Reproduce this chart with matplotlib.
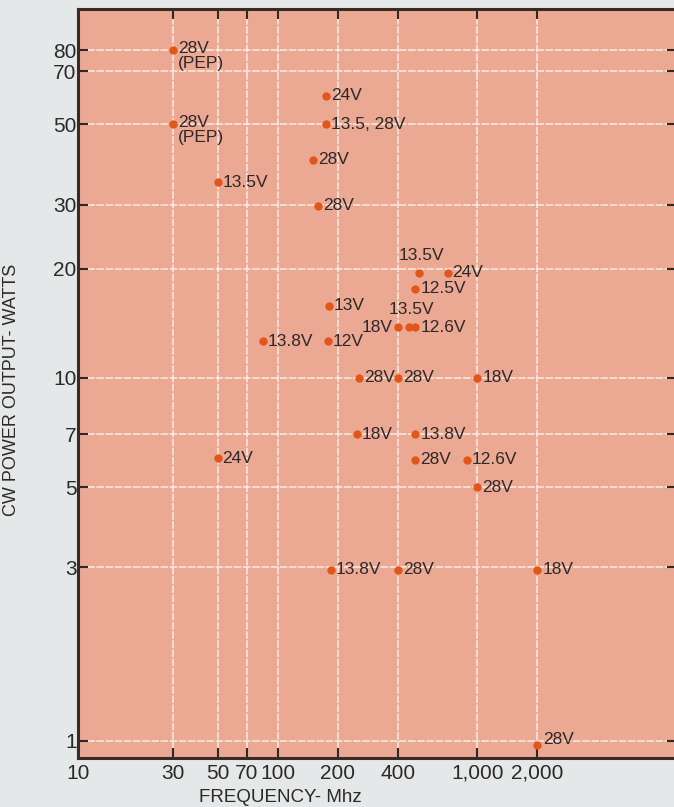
import matplotlib
matplotlib.use("Agg")
import matplotlib.pyplot as plt
from matplotlib.ticker import FixedLocator, NullLocator

# ---- data ----
freq = [30, 30, 50, 175, 175, 150, 160, 510, 710, 490, 180, 400, 455, 490,
        84, 178, 255, 400, 1000, 250, 490, 490, 890, 1000, 50, 185, 400, 2000, 2000]
power = [80, 50, 34.6, 60, 50, 40, 29.8, 19.5, 19.5, 17.6, 15.8, 13.8, 13.8, 13.8,
         12.6, 12.6, 10, 10, 10, 7, 7, 5.95, 5.95, 5, 6, 2.96, 2.96, 2.96, 0.97]
labels = ["28V\n(PEP)", "28V\n(PEP)", "13.5V", "24V", "13.5, 28V", "28V", "28V",
          "13.5V", "24V", "12.5V", "13V", "18V", "13.5V", "12.6V",
          "13.8V", "12V", "28V", "28V", "18V", "18V", "13.8V", "28V", "12.6V",
          "28V", "24V", "13.8V", "28V", "18V", "28V"]
placement = ["pep", "pep", "r", "r", "r", "r", "r",
             "up", "r", "r", "r", "l", "up", "r",
             "r", "r", "r", "r", "r", "r", "r", "r", "r",
             "r", "r", "r", "r", "r", "ur"]

x_ticks = [10, 30, 50, 70, 100, 200, 400, 1000, 2000]
x_ticklabels = ["10", "30", "50", "70", "100", "200", "400", "1,000", "2,000"]
y_ticks = [1, 3, 5, 7, 10, 20, 30, 50, 70, 80]
y_ticklabels = ["1", "3", "5", "7", "10", "20", "30", "50", "70", "80"]

# ---- style ----
plt.rcParams['font.family'] = ['Liberation Sans', 'DejaVu Sans']
TEXT = "#2e2828"
FIG_BG = "#e5e8e8"
AX_BG = "#eba893"
DOT = "#e2561a"

W, H = 674, 807
fig = plt.figure(figsize=(W / 100, H / 100), dpi=100, facecolor=FIG_BG)
L, R, T, B = 78, 677, 9, 758
ax = fig.add_axes([L / W, (H - B) / H, (R - L) / W, (B - T) / H])
ax.set_facecolor(AX_BG)
ax.set_xscale("log")
ax.set_yscale("log")
ax.set_xlim(10, 10000)
ax.set_ylim(0.895, 104)

ax.xaxis.set_major_locator(FixedLocator(x_ticks))
ax.xaxis.set_minor_locator(NullLocator())
ax.set_xticklabels(x_ticklabels)
ax.yaxis.set_major_locator(FixedLocator(y_ticks))
ax.yaxis.set_minor_locator(NullLocator())
ax.set_yticklabels(y_ticklabels)

ax.tick_params(axis="both", which="major", direction="in", length=7, width=1.5,
               color=TEXT, labelcolor=TEXT, labelsize=15, top=True, right=True)
ax.tick_params(axis="x", pad=4)
ax.tick_params(axis="y", pad=1)
for s in ax.spines.values():
    s.set_color("#3a2a26")
    s.set_linewidth(2.2)

ax.grid(True, which="major", color="#fbf3ee", linewidth=1.1, alpha=0.9,
        linestyle=(0, (5, 1)))
ax.set_axisbelow(True)

ax.scatter(freq, power, s=36, color=DOT, zorder=3, linewidths=0)

for f, p, lab, pl in zip(freq, power, labels, placement):
    kw = dict(color=TEXT, fontsize=12.5, textcoords="offset points", zorder=4)
    if pl == "r":
        ax.annotate(lab, (f, p), xytext=(3.5, 0), ha="left", va="center", **kw)
    elif pl == "l":
        ax.annotate(lab, (f, p), xytext=(-4, 0), ha="right", va="center", **kw)
    elif pl == "up":
        ax.annotate(lab, (f, p), xytext=(2, 12.5), ha="center", va="center", **kw)
    elif pl == "ur":
        ax.annotate(lab, (f, p), xytext=(4, 4), ha="left", va="center", **kw)
    elif pl == "pep":
        ax.annotate(lab, (f, p), xytext=(3.5, 6.5), ha="left", va="top",
                    linespacing=0.95, **kw)

fig.text(12 / W, 1 - 390 / H, "CW POWER OUTPUT- WATTS", rotation=90,
         ha="center", va="center", color=TEXT, fontsize=13)
fig.text(280 / W, 1 - 797 / H, "FREQUENCY- Mhz", ha="center", va="center",
         color=TEXT, fontsize=13.5)

fig.savefig("out.png", dpi=100, facecolor=FIG_BG)
